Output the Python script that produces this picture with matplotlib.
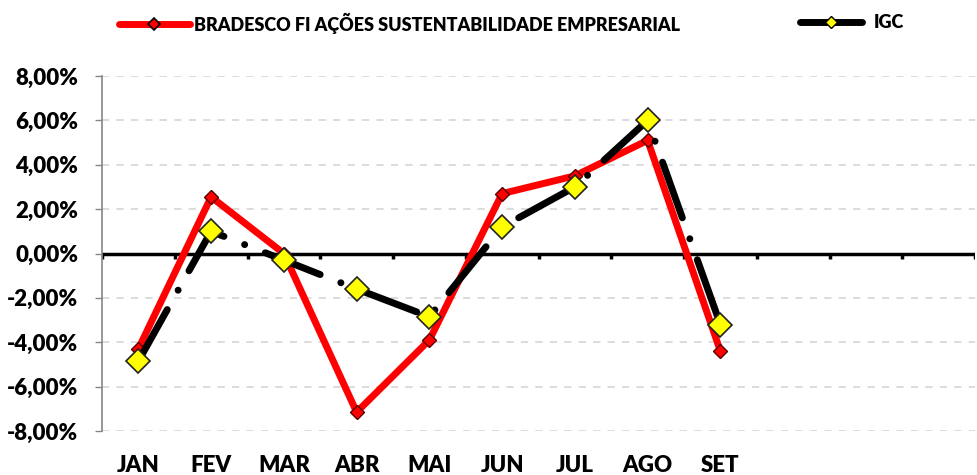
import matplotlib.pyplot as plt
from matplotlib.lines import Line2D
from matplotlib.ticker import FuncFormatter

### chart data ###
months = ['JAN', 'FEV', 'MAR', 'ABR', 'MAI', 'JUN', 'JUL', 'AGO', 'SET', '', '', '']
fundo = [-4.3, 2.55, 0.0, -7.15, -3.9, 2.7, 3.5, 5.1, -4.4]
igc = [-4.85, 1.0, -0.3, -1.6, -2.85, 1.2, 3.0, 6.0, -3.2]
yticks = [-8, -6, -4, -2, 0, 2, 4, 6, 8]
fundoLabel = 'BRADESCO FI AÇÕES SUSTENTABILIDADE EMPRESARIAL'
igcLabel = 'IGC'

plt.rcParams['font.family'] = ['Lato', 'DejaVu Sans']
plt.rcParams['font.weight'] = 'heavy'

fig = plt.figure(figsize=(9.77, 4.75), dpi=100)
ax = fig.add_axes([102 / 977, 44 / 475, 873 / 977, 355 / 475])

x = list(range(len(fundo)))

#grid + zero line
for t in yticks:
    if t != 0:
        ax.axhline(t, color='#d9d9d9', lw=1.3, dashes=(4, 4), zorder=1)
ax.axhline(0, color='black', lw=2.5, zorder=2)
ax.vlines([i - 0.5 for i in range(len(months) + 1)], 0, -0.25, color='black', lw=2.5, zorder=2)

#series
ax.plot(x, fundo, color='red', lw=5, solid_capstyle='round', solid_joinstyle='round',
        marker='D', markersize=7, markerfacecolor='red', markeredgecolor='#5a0000',
        markeredgewidth=1.0, zorder=3)
ax.plot(x, igc, color='black', lw=5, dashes=(8.5, 3.2, 0.01, 3.2), dash_capstyle='round',
        marker='D', markersize=12, markerfacecolor='#ffff00', markeredgecolor='#222222',
        markeredgewidth=1.2, zorder=4)

ax.set_xlim(-0.5, len(months) - 0.5)
ax.set_ylim(-8, 8)
ax.set_xticks(range(len(months)))
ax.set_xticklabels(months)
ax.set_yticks(yticks)
ax.yaxis.set_major_formatter(FuncFormatter(lambda v, p: '{:.2f}%'.format(v).replace('.', ',')))
ax.tick_params(axis='x', length=0, pad=17, labelsize=16)
ax.tick_params(axis='y', length=5, width=1, color='#868686', pad=12, labelsize=16)

for s in ['top', 'right', 'bottom']:
    ax.spines[s].set_visible(False)
ax.spines['left'].set_color('#868686')
ax.spines['left'].set_linewidth(1.2)

#legend (two separate entries)
h1 = Line2D([], [], color='red', lw=5, solid_capstyle='round', marker='D', markersize=6,
            markerfacecolor='red', markeredgecolor='black', markeredgewidth=1.2)
h2 = Line2D([], [], color='black', lw=5, solid_capstyle='round', marker='D', markersize=6,
            markerfacecolor='#ffff00', markeredgecolor='black', markeredgewidth=1.0)
leg1 = fig.legend([h1], [fundoLabel], loc='center left', bbox_to_anchor=(103 / 977, 1 - 23 / 475),
                  frameon=False, handlelength=3.9, handletextpad=0.25, prop={'size': 13, 'weight': 'heavy'})
leg2 = fig.legend([h2], [igcLabel], loc='center left', bbox_to_anchor=(784 / 977, 1 - 23 / 475),
                  frameon=False, handlelength=3.4, handletextpad=0.65, prop={'size': 13, 'weight': 'heavy'})

fig.savefig('out.png', dpi=100)
